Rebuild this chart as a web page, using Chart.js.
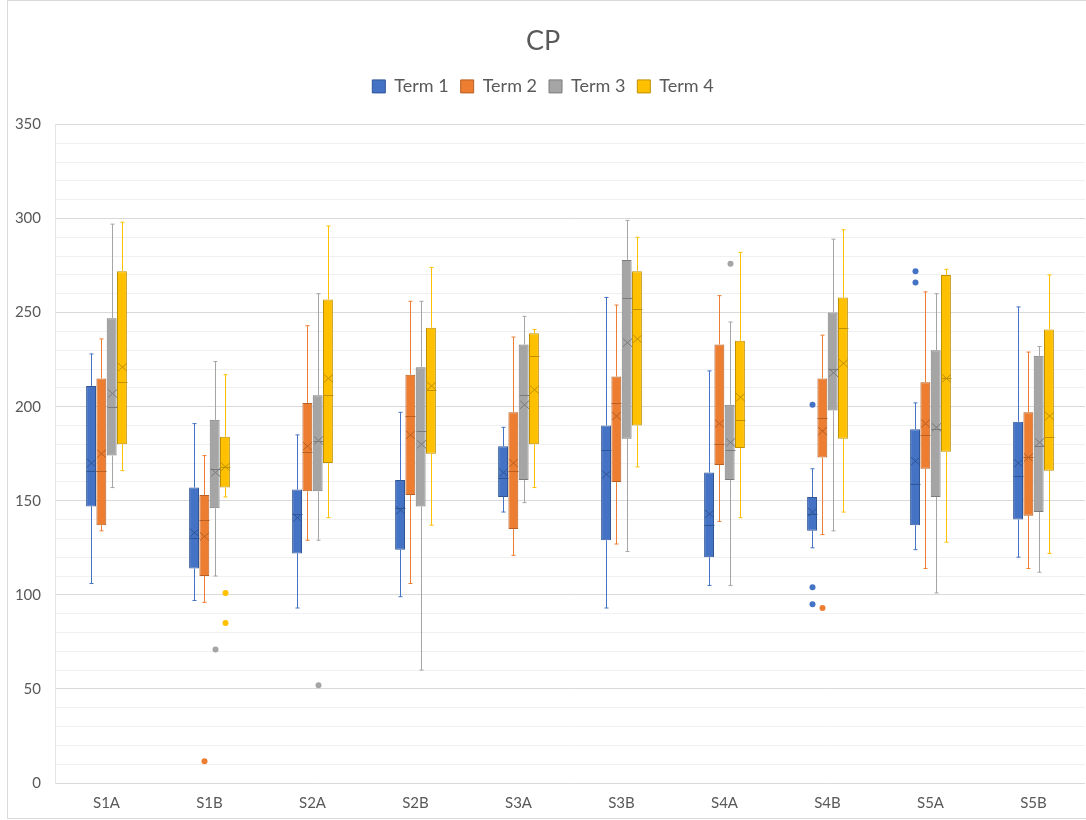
<!DOCTYPE html>
<html>
<head>
<meta charset="utf-8">
<title>CP</title>
<script src="https://cdn.jsdelivr.net/npm/chart.js@4.4.0/dist/chart.umd.min.js"></script>
<style>
  body { margin: 0; background: #fff; }
  #wrap { position: relative; width: 1086px; height: 820px; }
  #frame { position: absolute; left: 7px; top: 0; width: 1078px; height: 817px; border: 1px solid #d9d9d9; pointer-events: none; }
</style>
</head>
<body>
<div id="wrap">
  <canvas id="cpChart" width="1086" height="820"></canvas>
  <div id="frame"></div>
</div>
<script>
"use strict"

//data
const categories = ["S1A", "S1B", "S2A", "S2B", "S3A", "S3B", "S4A", "S4B", "S5A", "S5B"];
const termNames = ["Term 1", "Term 2", "Term 3", "Term 4"];

const term1Min = [106, 97, 93, 99, 144, 93, 105, 125, 124, 120];
const term1Q1 = [147, 114, 122, 124, 152, 129, 120, 134, 137, 140];
const term1Median = [166, 130, 143, 146, 162, 177, 137, 143, 159, 163];
const term1Q3 = [211, 157, 156, 161, 179, 190, 165, 152, 188, 192];
const term1Max = [228, 191, 185, 197, 189, 258, 219, 167, 202, 253];
const term1Mean = [170, 133, 141, 145, 165, 164, 143, 144, 171, 170];
const term1Outliers = [[], [], [], [], [], [], [], [201, 104, 95], [272, 266], []];

const term2Min = [134, 96, 129, 106, 121, 127, 139, 132, 114, 114];
const term2Q1 = [137, 110, 155, 153, 135, 160, 169, 173, 167, 142];
const term2Median = [166, 140, 176, 195, 166, 202, 180, 194, 185, 173];
const term2Q3 = [215, 153, 202, 217, 197, 216, 233, 215, 213, 197];
const term2Max = [236, 174, 243, 256, 237, 254, 259, 238, 261, 229];
const term2Mean = [175, 131, 179, 185, 170, 195, 191, 187, 191, 173];
const term2Outliers = [[], [11.5], [], [], [], [], [], [93], [], []];

const term3Min = [157, 110, 129, 60, 149, 123, 105, 134, 101, 112];
const term3Q1 = [174, 146, 155, 147, 161, 183, 161, 198, 152, 144];
const term3Median = [200, 167, 182, 187, 206, 258, 177, 220, 188, 179];
const term3Q3 = [247, 193, 206, 221, 233, 278, 201, 250, 230, 227];
const term3Max = [297, 224, 260, 256, 248, 299, 245, 289, 260, 232];
const term3Mean = [207, 165, 182, 180, 201, 234, 181, 218, 189, 181];
const term3Outliers = [[], [71], [52], [], [], [], [276], [], [], []];

const term4Min = [166, 152, 141, 137, 157, 168, 141, 144, 128, 122];
const term4Q1 = [180, 157, 170, 175, 180, 190, 178, 183, 176, 166];
const term4Median = [213, 168, 206, 209, 227, 252, 193, 242, 215, 184];
const term4Q3 = [272, 184, 257, 242, 239, 272, 235, 258, 270, 241];
const term4Max = [298, 217, 296, 274, 241, 290, 282, 294, 273, 270];
const term4Mean = [221, 168, 215, 211, 209, 236, 205, 223, 215, 195];
const term4Outliers = [[], [101, 85], [], [], [], [], [], [], [], []];

const fillColors = ["#4472C4", "#ED7D31", "#A5A5A5", "#FFC000"];
const darkColors = ["#2F5597", "#B85F23", "#7B7B7B", "#BF9000"];

const termStats = [
  { min: term1Min, q1: term1Q1, median: term1Median, q3: term1Q3, max: term1Max, mean: term1Mean, outliers: term1Outliers },
  { min: term2Min, q1: term2Q1, median: term2Median, q3: term2Q3, max: term2Max, mean: term2Mean, outliers: term2Outliers },
  { min: term3Min, q1: term3Q1, median: term3Median, q3: term3Q3, max: term3Max, mean: term3Mean, outliers: term3Outliers },
  { min: term4Min, q1: term4Q1, median: term4Median, q3: term4Q3, max: term4Max, mean: term4Mean, outliers: term4Outliers }
];

//whiskers, medians, means and outliers on top of the floating bars
const boxWhiskerPlugin = {
  id: "boxWhisker",
  afterDatasetsDraw(chart) {
    const ctx = chart.ctx;
    const yScale = chart.scales.y;
    ctx.save();
    ctx.lineWidth = 1;
    chart.data.datasets.forEach((ds, dsIndex) => {
      const meta = chart.getDatasetMeta(dsIndex);
      if (meta.hidden) return;
      const stats = termStats[dsIndex];
      meta.data.forEach((bar, i) => {
        const x = Math.round(bar.x) + 0.5;
        const half = bar.width / 2;
        const yMin = yScale.getPixelForValue(stats.min[i]);
        const yQ1 = yScale.getPixelForValue(stats.q1[i]);
        const yQ3 = yScale.getPixelForValue(stats.q3[i]);
        const yMax = yScale.getPixelForValue(stats.max[i]);
        const yMed = Math.round(yScale.getPixelForValue(stats.median[i])) + 0.5;
        const yMean = yScale.getPixelForValue(stats.mean[i]);

        // whiskers
        ctx.strokeStyle = fillColors[dsIndex];
        ctx.beginPath();
        ctx.moveTo(x, yQ3);
        ctx.lineTo(x, yMax);
        ctx.moveTo(x - 2, yMax);
        ctx.lineTo(x + 2, yMax);
        ctx.moveTo(x, yQ1);
        ctx.lineTo(x, yMin);
        ctx.moveTo(x - 2, yMin);
        ctx.lineTo(x + 2, yMin);
        ctx.stroke();

        // median and mean marker
        ctx.strokeStyle = darkColors[dsIndex];
        ctx.beginPath();
        ctx.moveTo(x - half, yMed);
        ctx.lineTo(x + half, yMed);
        ctx.moveTo(x - half + 0.5, yMean - 4);
        ctx.lineTo(x + half - 0.5, yMean + 4);
        ctx.moveTo(x - half + 0.5, yMean + 4);
        ctx.lineTo(x + half - 0.5, yMean - 4);
        ctx.stroke();

        // outliers
        ctx.fillStyle = fillColors[dsIndex];
        for (let value of stats.outliers[i]) {
          ctx.beginPath();
          ctx.arc(x, yScale.getPixelForValue(value), 3, 0, Math.PI * 2);
          ctx.fill();
        }
      });
    });
    ctx.restore();
  }
};

//extra room under the legend, like the gap above the plot in the picture
const legendSpacer = {
  id: "legendSpacer",
  beforeInit(chart) {
    const originalFit = chart.legend.fit;
    chart.legend.fit = function fit() {
      originalFit.bind(chart.legend)();
      this.height += 19;
    };
  }
};

const datasets = termNames.map((name, t) => ({
  label: name,
  data: categories.map((c, i) => [termStats[t].q1[i], termStats[t].q3[i]]),
  backgroundColor: fillColors[t],
  borderColor: darkColors[t],
  borderWidth: 1,
  borderSkipped: false,
  categoryPercentage: 0.4,
  barPercentage: 0.96
}));

const textColor = "#595959";
const fontFamily = "Lato, 'Open Sans', sans-serif";

const ctx = document.getElementById("cpChart").getContext("2d");
const cpChart = new Chart(ctx, {
  type: "bar",
  data: {
    labels: categories,
    datasets: datasets
  },
  plugins: [boxWhiskerPlugin, legendSpacer],
  options: {
    responsive: false,
    animation: false,
    layout: {
      padding: { top: 8, left: 1, right: 1, bottom: 7 }
    },
    plugins: {
      title: {
        display: true,
        text: "CP",
        color: textColor,
        font: { family: fontFamily, size: 27, weight: "normal" },
        padding: { top: 17, bottom: 8 }
      },
      legend: {
        position: "top",
        labels: {
          color: textColor,
          font: { family: fontFamily, size: 18 },
          boxWidth: 13,
          boxHeight: 13,
          padding: 12
        }
      },
      tooltip: { enabled: false }
    },
    scales: {
      x: {
        grid: { display: false, drawTicks: false },
        border: { display: false },
        ticks: {
          color: textColor,
          font: { family: fontFamily, size: 15 },
          padding: 11
        },
        afterFit: (scale) => { scale.height = 30; }
      },
      y: {
        min: 0,
        max: 350,
        border: { display: true, color: "#e4e4e4" },
        grid: {
          drawTicks: false,
          color: (c) => (c.tick && c.tick.value % 50 === 0) ? "#d9d9d9" : "#f0f0f0"
        },
        ticks: {
          stepSize: 10,
          autoSkip: false,
          color: textColor,
          font: { family: fontFamily, size: 15 },
          padding: 14,
          callback: (value) => value % 50 === 0 ? value : ""
        },
        afterFit: (scale) => { scale.width = 54; }
      }
    }
  }
});
</script>
</body>
</html>
